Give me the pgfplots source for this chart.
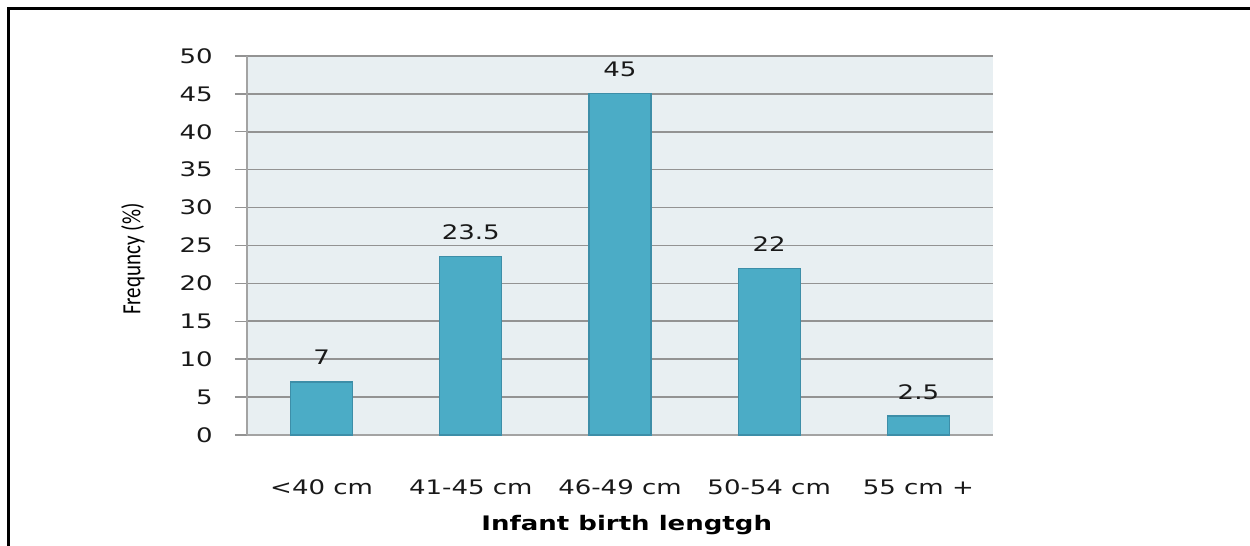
\documentclass[border=0pt]{standalone}
\usepackage{fontspec}
\setmainfont[FakeStretch=1.3]{DejaVu Sans}
\newfontfamily\ylabfont{Carlito}
\usepackage{graphicx}
\usepackage{pgfplots}
\pgfplotsset{compat=1.18}

\definecolor{barfill}{HTML}{4BACC6}
\definecolor{barline}{HTML}{3D8EA8}
\definecolor{plotbg}{HTML}{E8EFF2}
\definecolor{gridgray}{HTML}{939393}

\begin{document}
\begin{tikzpicture}
% page = 1250 x 546 px, 1 px = 0.5pt; plot area lower left at (0,0)
\useasboundingbox (-123.5pt,-55.5pt) rectangle (501.5pt,217.5pt);
\draw[line width=1.5pt] (-119pt,-55.5pt) -- (-119pt,213pt) -- (501.5pt,213pt);
\begin{axis}[
    scale only axis,
    width=373pt, height=189.5pt,
    xmin=0.5, xmax=5.5,
    ymin=0, ymax=50,
    ytick={0,5,...,50},
    xtick={1,2,3,4,5},
    xticklabels={<40 cm, 41-45 cm, 46-49 cm, 50-54 cm, 55 cm +},
    major x tick style={draw=none},
    extra x ticks={0.5,1.5,2.5,3.5,4.5,5.5},
    extra x tick labels={},
    extra x tick style={major tick length=4pt, grid=none},
    major tick length=6pt,
    tick align=outside,
    axis x line*=bottom,
    axis y line*=left,
    axis line style={draw=gridgray!85, line width=0.7pt},
    every tick/.style={draw=gridgray, line width=0.7pt},
    ymajorgrids=true,
    grid style={draw=gridgray, line width=0.8pt},
    axis background/.style={fill=plotbg},
    /pgf/number format/assume math mode=true,
    tick label style={font=\fontsize{10}{12}\selectfont, text=black!90},
    yticklabel style={anchor=east, inner sep=0pt, xshift=-11pt},
    xticklabel style={anchor=base, inner sep=0pt, yshift=-24pt},
    xlabel={\textbf{Infant birth lengtgh}},
    xlabel style={at={(axis description cs:0.509,-0.2375)}, anchor=center, font=\fontsize{10}{12}\selectfont},
    ylabel={\scalebox{1}[1.25]{\ylabfont Frequncy (\%)}},
    ylabel style={at={(axis description cs:-0.153,0.464)}, anchor=center, font=\fontsize{10.5}{13}\selectfont},
    ybar,
    bar width=31pt,
    nodes near coords,
    every node near coord/.append style={anchor=base, inner sep=0pt, yshift=8.5pt, font=\fontsize{10}{12}\selectfont, text=black!90},
    clip=false,
]
\addplot[fill=barfill, draw=barline, line width=0.6pt]
    coordinates {(1,7) (2,23.5) (3,45) (4,22) (5,2.5)};
\end{axis}
\end{tikzpicture}
\end{document}
